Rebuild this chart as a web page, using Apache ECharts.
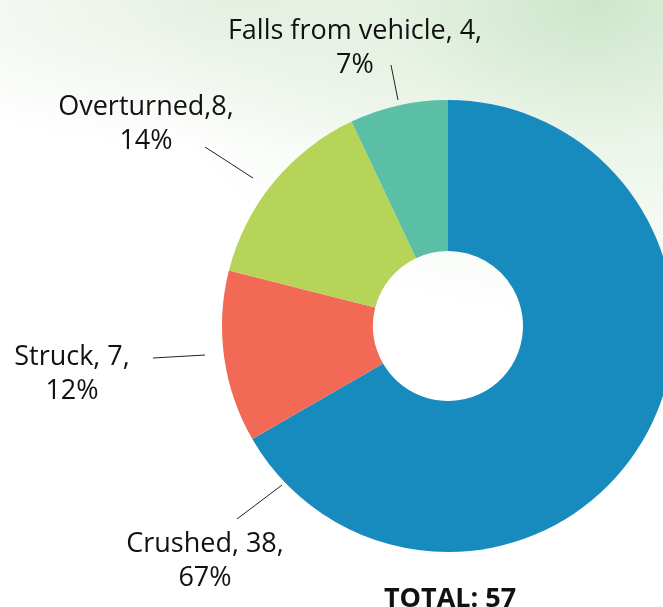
<!DOCTYPE html>
<html>
<head>
<meta charset="utf-8">
<script src="https://cdn.jsdelivr.net/npm/echarts@6/dist/echarts.min.js"></script>
<style>
  html, body { margin: 0; padding: 0; }
  body {
    width: 663px;
    height: 607px;
    overflow: hidden;
    background:
      radial-gradient(ellipse 460px 320px at 90% 0%, rgba(196, 226, 192, 0.85) 0%, rgba(222, 238, 218, 0.6) 45%, rgba(255, 255, 255, 0) 100%),
      radial-gradient(ellipse 420px 150px at 35% 0%, rgba(228, 238, 224, 0.9) 0%, rgba(255, 255, 255, 0) 100%),
      #ffffff;
  }
  #chart { width: 663px; height: 607px; }
</style>
</head>
<body>
<div id="chart"></div>
<script>
/* ---------- data ---------- */
const categories = ['Crushed', 'Struck', 'Overturned', 'Falls from vehicle']
const counts = [38, 7, 8, 4]
const separators = [', ', ', ', ',', ', ']
const total = counts.reduce((a, b) => a + b, 0)

/* ---------- colours ---------- */
const colors = ['#188bbe', '#f26a55', '#b6d457', '#5bbfa6']

/* ---------- label placement (centre of text block, leader line) ---------- */
const labelCentres = [[205, 561], [72, 374], [146, 124], [355, 48]]
const leaderLines = [
  [[282, 485], [237, 519]],
  [[205, 355], [153, 358]],
  [[253, 178], [205, 147]],
  [[398, 100], [391, 65]]
]

const chart = echarts.init(document.getElementById('chart'))

chart.setOption({
  backgroundColor: 'transparent',
  animation: false,
  title: {
    text: 'TOTAL: ' + total,
    left: 445,
    top: 581,
    textAlign: 'center',
    textStyle: {
      fontFamily: 'Open Sans',
      fontSize: 27,
      lineHeight: 27,
      fontWeight: 'bold',
      color: '#111'
    }
  },
  series: [
    {
      type: 'pie',
      center: [448, 326],
      radius: [75, 226],
      startAngle: 90,
      clockwise: true,
      percentPrecision: 0,
      silent: true,
      avoidLabelOverlap: false,
      label: {
        show: true,
        position: 'outside',
        fontFamily: 'Open Sans',
        fontSize: 27,
        lineHeight: 34,
        color: '#111',
        align: 'center',
        width: 320,
        overflow: 'none',
        formatter: (p) => p.name + separators[p.dataIndex] + p.value + ',\n' + p.percent + '%'
      },
      labelLine: {
        show: true,
        lineStyle: { color: '#222', width: 1 }
      },
      labelLayout: (p) => ({
        x: labelCentres[p.dataIndex][0],
        y: labelCentres[p.dataIndex][1],
        align: 'center',
        verticalAlign: 'middle',
        hideOverlap: false,
        labelLinePoints: leaderLines[p.dataIndex]
      }),
      itemStyle: { borderWidth: 0 },
      data: categories.map((name, i) => ({
        name,
        value: counts[i],
        itemStyle: { color: colors[i] }
      }))
    }
  ]
})
</script>
</body>
</html>
